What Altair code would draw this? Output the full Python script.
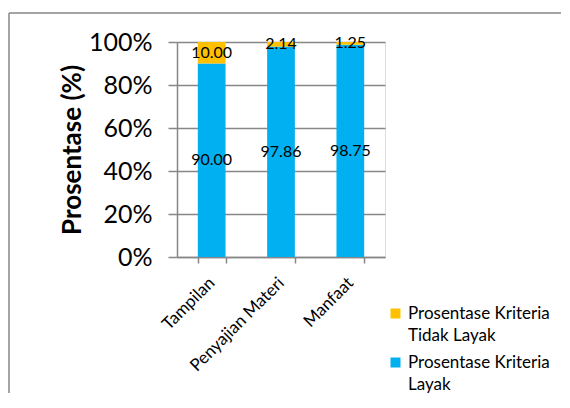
import altair as alt
import pandas as pd

categories = ["Tampilan", "Penyajian Materi", "Manfaat"]
layak = [90.00, 97.86, 98.75]
tidak_layak = [10.00, 2.14, 1.25]
series_names = ["Prosentase Kriteria Tidak Layak", "Prosentase Kriteria Layak"]
series_colors = ["#FFC000", "#00B0F0"]
y_ticks = [0, 20, 40, 60, 80, 100]

rows = []
for c, l, t in zip(categories, layak, tidak_layak):
    rows.append({"cat": c, "series": series_names[1], "value": l, "ord": 0})
    rows.append({"cat": c, "series": series_names[0], "value": t, "ord": 1})
df = pd.DataFrame(rows)

FONT = "Lato"
GRAY = "#878787"

x_enc = alt.X(
    "cat:N",
    sort=categories,
    title=None,
    scale=alt.Scale(paddingInner=0.6, paddingOuter=0.3),
    axis=alt.Axis(
        labelAngle=-45, labelAlign="right", labelBaseline="middle",
        labelFontSize=17, labelFont=FONT, labelColor="#000000",
        labelPadding=17, tickBand="extent", tickSize=6, tickColor=GRAY,
        domainColor=GRAY, domainWidth=1.5, tickWidth=1.5, grid=False,
    ),
)

base = alt.Chart(df)

bars = base.mark_bar().encode(
    x=x_enc,
    y=alt.Y(
        "value:Q",
        stack="zero",
        scale=alt.Scale(domain=[0, 100], nice=False),
        title="Prosentase (%)",
        axis=alt.Axis(
            values=y_ticks, labelExpr="datum.value + '%'",
            labelFontSize=25, labelFont=FONT, labelColor="#000000",
            labelPadding=16, tickSize=9, tickColor=GRAY, tickWidth=1.5,
            gridColor=GRAY, gridWidth=1.5, domainColor=GRAY, domainWidth=1.5,
            titleFont=FONT, titleFontSize=26, titleFontWeight="bold",
            titleColor="#000000", titlePadding=3,
        ),
    ),
    color=alt.Color(
        "series:N",
        scale=alt.Scale(domain=series_names, range=series_colors),
        legend=alt.Legend(
            title=None, orient="none", legendX=210, legendY=263,
            symbolType="square", symbolSize=100, symbolStrokeWidth=0,
            labelFont=FONT, labelFontSize=17, labelColor="#000000",
            labelLimit=0, labelOffset=4, rowPadding=9,
            labelExpr="datum.label == 'Prosentase Kriteria Tidak Layak' ? ['Prosentase Kriteria', 'Tidak Layak'] : ['Prosentase Kriteria', 'Layak']",
        ),
    ),
    order=alt.Order("ord:Q"),
)

labels = base.transform_stack(
    stack="value", groupby=["cat"], as_=["v0", "v1"],
    sort=[alt.SortField("ord", order="ascending")],
).transform_calculate(
    mid="(datum.v0 + datum.v1) / 2",
    txt="format(datum.value, '.2f')",
).mark_text(font=FONT, fontSize=16, color="#000000", baseline="middle").encode(
    x=alt.X("cat:N", sort=categories),
    y=alt.Y("mid:Q"),
    text="txt:N",
)

frame = alt.Data(values=[{"a": 1}])
border_left = alt.Chart(frame).mark_rule(color=GRAY, strokeWidth=1.5).encode(
    x=alt.value(-168), y=alt.value(-29), y2=alt.value(352)
)
border_top = alt.Chart(frame).mark_rule(color=GRAY, strokeWidth=1.5).encode(
    x=alt.value(-168), x2=alt.value(384), y=alt.value(-29)
)

chart = alt.layer(border_left, border_top, bars, labels).properties(
    width=208, height=215,
    autosize=alt.AutoSizeParams(type="none"),
    padding={"left": 169, "top": 34, "right": 177, "bottom": 136},
    background="#ffffff",
).configure_view(stroke=None).configure(
    style={"guide-label": {"lineHeight": 22}}
)

chart.save("out.html", embed_options={"renderer": "svg", "actions": False})
